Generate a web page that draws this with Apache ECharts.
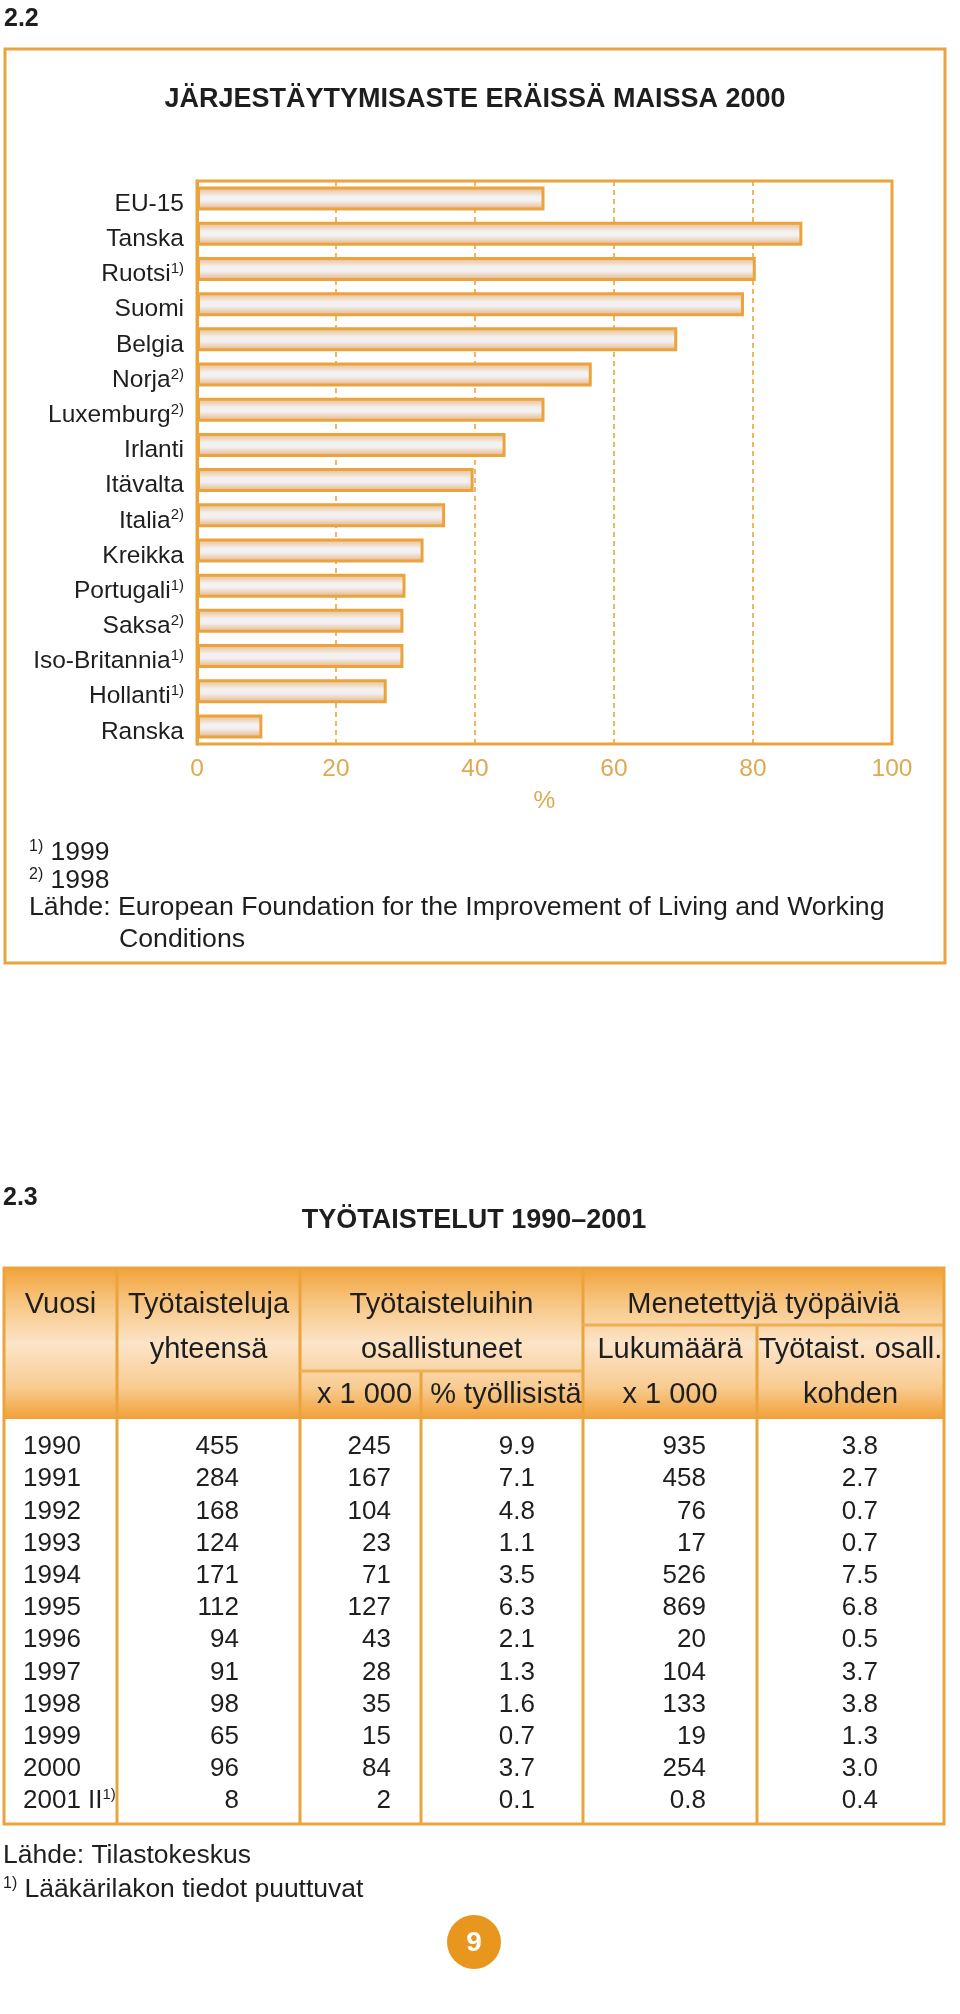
<!DOCTYPE html>
<html><head><meta charset="utf-8">
<script src="https://cdn.jsdelivr.net/npm/echarts@6/dist/echarts.min.js"></script>
<style>html,body{margin:0;padding:0;background:#fff}#c{width:960px;height:2014px}</style>
</head><body><div id="c"></div>
<script>
// ---------- data: chart 2.2 ----------
const countries = ['EU-15','Tanska','Ruotsi','Suomi','Belgia','Norja','Luxemburg','Irlanti','Itävalta','Italia','Kreikka','Portugali','Saksa','Iso-Britannia','Hollanti','Ranska'];
const countryNotes = ['','','1)','','','2)','2)','','','2)','','1)','2)','1)','1)',''];
const unionRate = [50.0, 87.1, 80.4, 78.7, 69.1, 56.8, 50.0, 44.4, 39.8, 35.7, 32.6, 30.0, 29.7, 29.7, 27.3, 9.4];
const xMin = 0, xMax = 100, xStep = 20;
const xUnit = '%';
const title1 = 'JÄRJESTÄYTYMISASTE ERÄISSÄ MAISSA 2000';
const notes1 = [['1)', '1999'], ['2)', '1998']];
const source1 = ['Lähde: ', 'European Foundation for the Improvement of Living and Working', 'Conditions'];

// ---------- data: table 2.3 ----------
const title2 = 'TYÖTAISTELUT 1990–2001';
const years = ['1990','1991','1992','1993','1994','1995','1996','1997','1998','1999','2000','2001 II'];
const yearNotes = ['','','','','','','','','','','','1)'];
const strikesTotal = [455, 284, 168, 124, 171, 112, 94, 91, 98, 65, 96, 8];
const participants = [245, 167, 104, 23, 71, 127, 43, 28, 35, 15, 84, 2];
const participantsPct = [9.9, 7.1, 4.8, 1.1, 3.5, 6.3, 2.1, 1.3, 1.6, 0.7, 3.7, 0.1];
const daysLost = [935, 458, 76, 17, 526, 869, 20, 104, 133, 19, 254, 0.8];
const daysPerParticipant = [3.8, 2.7, 0.7, 0.7, 7.5, 6.8, 0.5, 3.7, 3.8, 1.3, 3.0, 0.4];
const head1 = ['Vuosi', 'Työtaisteluja', 'Työtaisteluihin', 'Menetettyjä työpäiviä'];
const head2 = ['yhteensä', 'osallistuneet', 'Lukumäärä', 'Työtaist. osall.'];
const head3 = ['x 1 000', '% työllisistä', 'x 1 000', 'kohden'];
const source2 = 'Lähde: Tilastokeskus';
const note2 = ['1)', 'Lääkärilakon tiedot puuttuvat'];
const pageNo = '9';

// ---------- styling / layout ----------
const FF = "'Liberation Sans', Arial, Helvetica, sans-serif";
const ORANGE = '#EBA43C';
const GOLD = '#DCAA52';
const INK = '#1e1e1e';

const chart = echarts.init(document.getElementById('c'), null, {renderer: 'canvas'});

const g = [];
function txt(x, y, text, o) {
  o = o || {};
  g.push({type: 'text', x: x, y: y, z: 10, silent: true, style: Object.assign({
    text: text, fill: o.fill || INK, fontSize: o.size || 26, fontFamily: FF,
    fontWeight: o.weight || 'normal',
    align: o.align || 'left', textAlign: o.align || 'left',
    verticalAlign: 'middle', textVerticalAlign: 'middle'
  }, o.rich ? {rich: o.rich} : {})});
}
function line(x1, y1, x2, y2, w, c) {
  g.push({type: 'line', z: 5, silent: true, shape: {x1, y1, x2, y2}, style: {stroke: c || ORANGE, lineWidth: w || 3}});
}
function supRich(size, supSize) {
  return {
    n: {fontSize: size, fontFamily: FF, color: INK, lineHeight: size + 4},
    s: {fontSize: supSize, fontFamily: FF, color: INK, lineHeight: supSize, verticalAlign: 'top', padding: [1, 0, 0, 0]}
  };
}

// ----- section 2.2 -----
txt(4, 19, '2.2', {size: 25, weight: 'bold'});
g.push({type: 'rect', z: 4, silent: true, shape: {x: 5, y: 49, width: 940, height: 914}, style: {fill: 'none', stroke: ORANGE, lineWidth: 3}});
txt(475, 100, title1, {size: 27, weight: 'bold', align: 'center'});
notes1.forEach((nt, i) => {
  txt(29, 853 + i * 28, '{s|' + nt[0] + '}{n| ' + nt[1] + '}', {rich: supRich(26.5, 16)});
});
txt(29, 908, source1[0] + source1[1], {size: 26.7});
txt(119, 940, source1[2], {size: 26.7});

// ----- section 2.3 -----
txt(3, 1198, '2.3', {size: 25, weight: 'bold'});
txt(474, 1221, title2, {size: 27, weight: 'bold', align: 'center'});

const tTop = 1268, tBot = 1824, tL = 4, tR = 944, hBot = 1419;
const colX = [4, 117, 300, 421, 583, 757, 944];
const subY1 = 1325, subY2 = 1371;
g.push({type: 'rect', z: 1, silent: true, shape: {x: tL, y: tTop, width: tR - tL, height: hBot - tTop},
  style: {fill: new echarts.graphic.LinearGradient(0, 0, 0, 1, [
    {offset: 0, color: '#F2A23A'}, {offset: 0.22, color: '#F7C47F'}, {offset: 0.5, color: '#FCE4C8'},
    {offset: 0.78, color: '#F8CD94'}, {offset: 1, color: '#F1A037'}])}});
g.push({type: 'rect', z: 6, silent: true, shape: {x: tL, y: tTop, width: tR - tL, height: tBot - tTop}, style: {fill: 'none', stroke: ORANGE, lineWidth: 3}});
line(colX[1], tTop, colX[1], tBot);
line(colX[2], tTop, colX[2], tBot);
line(colX[3], subY2, colX[3], tBot);
line(colX[4], tTop, colX[4], tBot);
line(colX[5], subY1, colX[5], tBot);
line(colX[4], subY1, tR, subY1, 3, '#F0AE52');
line(colX[2], subY2, colX[4], subY2, 3, '#F0AE52');

const mid = (a, b) => (colX[a] + colX[b]) / 2;
const HS = 29;
txt(mid(0, 1), 1305, head1[0], {size: HS, align: 'center'});
txt(mid(1, 2), 1305, head1[1], {size: HS, align: 'center'});
txt(mid(2, 4), 1305, head1[2], {size: HS, align: 'center'});
txt(mid(4, 6), 1305, head1[3], {size: HS, align: 'center'});
txt(mid(1, 2), 1350, head2[0], {size: HS, align: 'center'});
txt(mid(2, 4), 1350, head2[1], {size: HS, align: 'center'});
txt(mid(4, 5), 1350, head2[2], {size: HS, align: 'center'});
txt(mid(5, 6), 1350, head2[3], {size: HS, align: 'center'});
txt(mid(2, 3) + 4, 1395, head3[0], {size: HS, align: 'center'});
txt(mid(3, 4) + 4, 1395, head3[1], {size: HS, align: 'center'});
txt(mid(4, 5), 1395, head3[2], {size: HS, align: 'center'});
txt(mid(5, 6), 1395, head3[3], {size: HS, align: 'center'});

const rowY0 = 1447, rowDY = 32.2;
const valRight = [239, 391, 535, 706, 878];
const cols = [
  strikesTotal.map(String),
  participants.map(String),
  participantsPct.map(v => v.toFixed(1)),
  daysLost.map(String),
  daysPerParticipant.map(v => v.toFixed(1))
];
years.forEach((y, i) => {
  const yy = rowY0 + i * rowDY;
  if (yearNotes[i]) txt(23, yy, '{n|' + y + '}{s|' + yearNotes[i] + '}', {rich: supRich(26, 15)});
  else txt(23, yy, y, {size: 26});
  cols.forEach((c, j) => txt(valRight[j], yy, c[i], {size: 26, align: 'right'}));
});
txt(3, 1856, source2, {size: 26.5});
txt(3, 1890, '{s|' + note2[0] + '}{n| ' + note2[1] + '}', {rich: supRich(26.5, 16)});

g.push({type: 'circle', z: 5, silent: true, shape: {cx: 474, cy: 1942, r: 27}, style: {fill: '#E9961F'}});
txt(474, 1943, pageNo, {size: 28, weight: 'bold', align: 'center', fill: '#ffffff'});

chart.setOption({
  animation: false,
  backgroundColor: '#ffffff',
  grid: {left: 197, right: 68, top: 181, bottom: 1270, show: true, borderColor: ORANGE, borderWidth: 3,
         backgroundColor: 'transparent', containLabel: false, outerBoundsMode: 'none'},
  xAxis: {
    type: 'value', min: xMin, max: xMax, interval: xStep,
    axisLine: {show: false}, axisTick: {show: false},
    splitLine: {show: true, lineStyle: {type: [5, 4], color: ORANGE, width: 1.6}},
    axisLabel: {color: GOLD, fontSize: 24.5, fontFamily: FF, margin: 13},
    name: xUnit, nameLocation: 'middle', nameGap: 45,
    nameTextStyle: {color: GOLD, fontSize: 24.5, fontFamily: FF}
  },
  yAxis: {
    type: 'category', inverse: true, data: countries,
    axisLine: {show: true, lineStyle: {color: ORANGE, width: 3}}, axisTick: {show: false},
    splitLine: {show: false},
    axisLabel: {
      margin: 13, padding: [11, 0, 0, 0],
      formatter: (v, i) => '{n|' + v + '}' + (countryNotes[i] ? '{s|' + countryNotes[i] + '}' : ''),
      rich: {
        n: {fontSize: 24.5, fontFamily: FF, color: INK, lineHeight: 28},
        s: {fontSize: 15, fontFamily: FF, color: INK, lineHeight: 15, verticalAlign: 'top', padding: [1, 0, 0, 0]}
      }
    }
  },
  series: [{
    type: 'bar', data: unionRate, barWidth: 24, silent: true,
    itemStyle: {
      borderColor: ORANGE, borderWidth: 3,
      color: new echarts.graphic.LinearGradient(0, 0, 0, 1, [
        {offset: 0, color: '#E8B583'}, {offset: 0.42, color: '#F4F2F1'}, {offset: 0.58, color: '#F3F1F1'}, {offset: 1, color: '#E4AE7E'}])
    }
  }],
  graphic: {elements: g}
});
</script>
</body></html>
